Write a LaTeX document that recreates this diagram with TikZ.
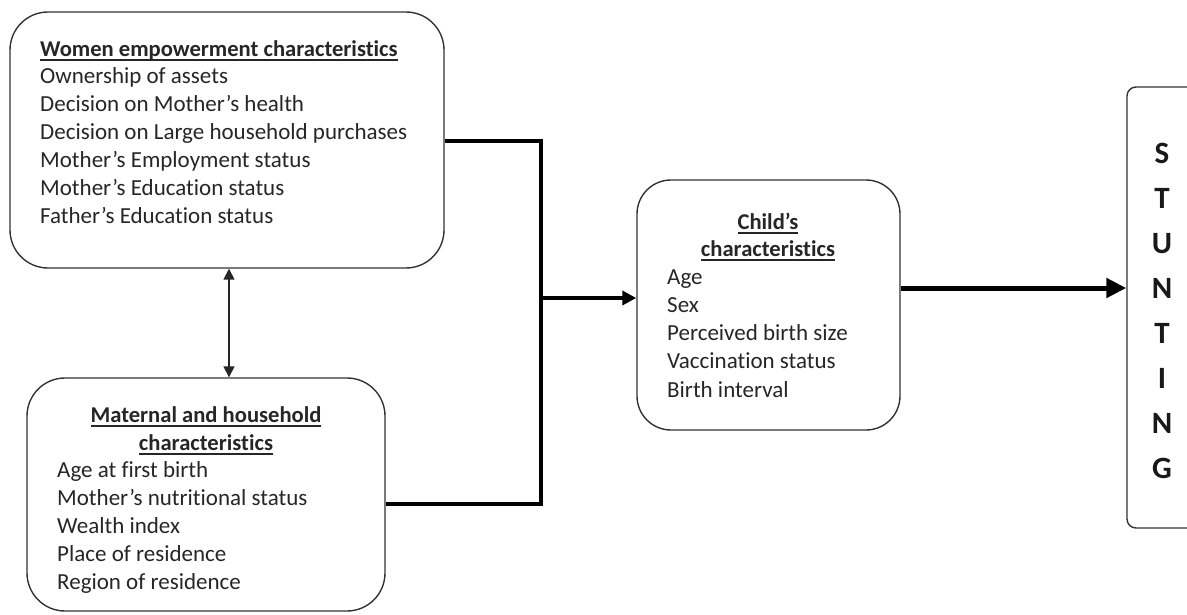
\documentclass[tikz,border=0pt]{standalone}
\usepackage{fontspec}
\setmainfont[Ligatures=CommonOff]{Carlito}
\usetikzlibrary{arrows.meta,calc}
\newcommand{\myul}[1]{\setbox0\hbox{#1}\rlap{\rule[-4.5pt]{\wd0}{1.3pt}}\box0}
\begin{document}
\begin{tikzpicture}[x=1pt,y=-1pt,
  box/.style={draw=black!80, line width=1.4pt, inner sep=0pt},
  txt/.style={font=\fontsize{23}{26}\selectfont, text=black!85, inner sep=0pt, anchor=base west},
  hdr/.style={font=\fontsize{22.6}{26}\selectfont\bfseries, text=black!85, inner sep=0pt, anchor=base},
  big/.style={font=\fontsize{31}{36}\selectfont\bfseries, text=black!90, inner sep=0pt, anchor=base},
  conn/.style={line width=4pt, black},
]
\useasboundingbox (0,0) rectangle (1187,614);
\clip (0,0) rectangle (1187,614);

% boxes
\node[box, rounded corners=38pt, minimum width=434pt, minimum height=256pt] (women) at (227,140) {};
\node[box, rounded corners=38pt, minimum width=358pt, minimum height=233pt] (mat) at (206,494.5) {};
\node[box, rounded corners=34pt, minimum width=263pt, minimum height=250pt] (child) at (768.5,305) {};
\node[box, rounded corners=9pt, minimum width=110pt, minimum height=441pt] (stunt) at (1182,307.5) {};

% women text
\node[txt, font=\fontsize{22.6}{26}\selectfont\bfseries] (wh) at (40,56) {\myul{Women empowerment characteristics}};
\foreach \t [count=\i] in {Ownership of assets, Decision on Mother’s health, Decision on Large household purchases, Mother’s Employment status, Mother’s Education status, Father’s Education status}
  \node[txt] (w\i) at (40,{55+28*\i}) {\t};

% maternal text
\node[hdr] (mh1) at (206,422) {\myul{Maternal and household}};
\node[hdr] (mh2) at (206,450) {\myul{characteristics}};
\foreach \t [count=\i] in {Age at first birth, Mother’s nutritional status, Wealth index, Place of residence, Region of residence}
  \node[txt] (m\i) at (57,{449+28*\i}) {\t};

% child text
\node[hdr] (ch1) at (768,229) {\myul{Child’s}};
\node[hdr] (ch2) at (768,256) {\myul{characteristics}};
\foreach \t [count=\i] in {Age, Sex, Perceived birth size, Vaccination status, Birth interval}
  \node[txt] (c\i) at (667,{256+28.2*\i}) {\t};

% stunting letters
\foreach \l [count=\i] in {S,T,U,N,T,I,N,G}
  \node[big] (s\i) at (1162,{118+45*\i}) {\l};

% connectors
\coordinate (jt) at (541,141);
\coordinate (jb) at (541,504);
\coordinate (jm) at (541,298);
\coordinate (da) at ($(women.south)+(2,0)$);
\draw[conn, line join=miter] (women.east |- jt) -- (jt) -- (jb) -- (mat.east |- jb);
\draw[conn, -{Triangle[length=14pt,width=14pt]}] (jm) -- (child.west |- jm);
\draw[line width=5pt, -{Triangle[length=20pt,width=19pt]}] ($(child.east)+(0,-17)$) -- ($(stunt.west)+(0,-19.5)$);
\draw[line width=1.6pt, black!85, {Triangle[length=11pt,width=11pt]}-{Triangle[length=11pt,width=11pt]}] (da) -- (da |- mat.north);
\end{tikzpicture}
\end{document}
